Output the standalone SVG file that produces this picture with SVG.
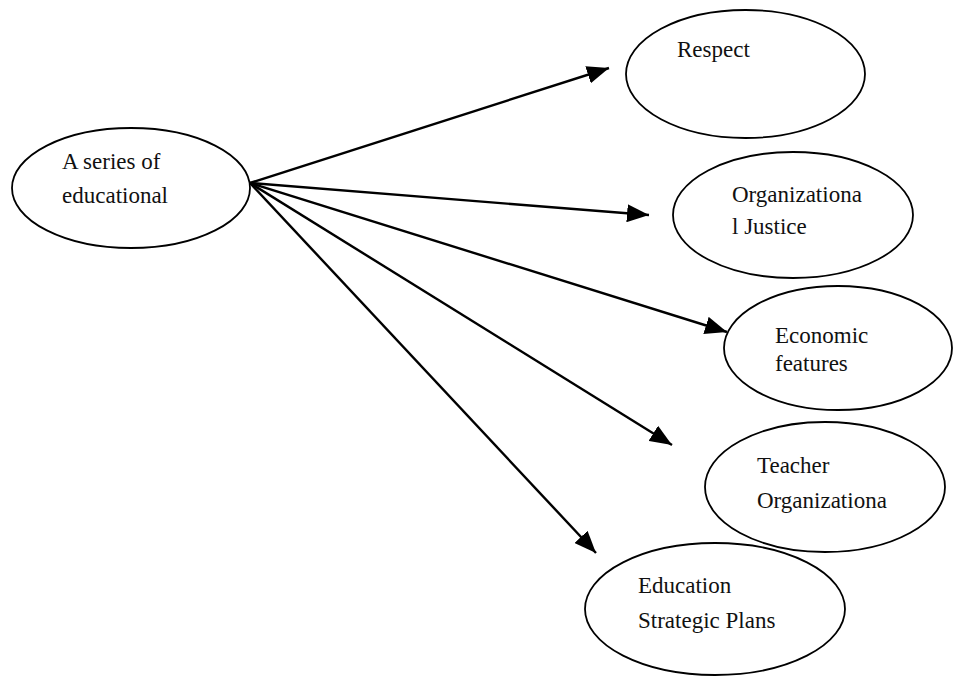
<svg xmlns="http://www.w3.org/2000/svg" width="956" height="678" viewBox="0 0 956 678">
<style>
.node ellipse{fill:#fff;stroke:#000;stroke-width:1.8}
.node text{font-family:"Liberation Serif","Times New Roman",serif;font-size:23px;fill:#111}
.conn line{stroke:#000;stroke-width:2.4}
</style>
<defs>
<marker id="ah" markerUnits="userSpaceOnUse" markerWidth="24" markerHeight="18" viewBox="0 0 24 18" refX="22" refY="9" orient="auto">
<path d="M0,0 L22,9 L0,18 Z" fill="#000"/>
</marker>
</defs>
<rect width="956" height="678" fill="#fff"/>
<g id="n0" class="node">
<ellipse cx="131" cy="188" rx="119" ry="60"/>
<text x="62" y="169">A series of</text>
<text x="62" y="203">educational</text>
</g>
<g id="n1" class="node">
<ellipse cx="745.5" cy="74" rx="119.5" ry="64"/>
<text x="677" y="57">Respect</text>
</g>
<g id="n2" class="node">
<ellipse cx="793" cy="215" rx="120" ry="63"/>
<text x="732" y="202">Organizationa</text>
<text x="732" y="234">l Justice</text>
</g>
<g id="n3" class="node">
<ellipse cx="838" cy="348" rx="114" ry="62"/>
<text x="775" y="343">Economic</text>
<text x="775" y="371">features</text>
</g>
<g id="n4" class="node">
<ellipse cx="825" cy="487" rx="120" ry="65"/>
<text x="757" y="473">Teacher</text>
<text x="757" y="508">Organizationa</text>
</g>
<g id="n5" class="node">
<ellipse cx="715" cy="609" rx="130" ry="66"/>
<text x="638" y="593">Education</text>
<text x="638" y="628">Strategic Plans</text>
</g>
<g id="connectors" class="conn">
<line x1="250" y1="183" x2="609" y2="68" marker-end="url(#ah)"/>
<line x1="250" y1="183" x2="649" y2="215" marker-end="url(#ah)"/>
<line x1="250" y1="183" x2="727" y2="332" marker-end="url(#ah)"/>
<line x1="250" y1="183" x2="672" y2="445" marker-end="url(#ah)"/>
<line x1="250" y1="183" x2="596" y2="553" marker-end="url(#ah)"/>
</g>
</svg>
